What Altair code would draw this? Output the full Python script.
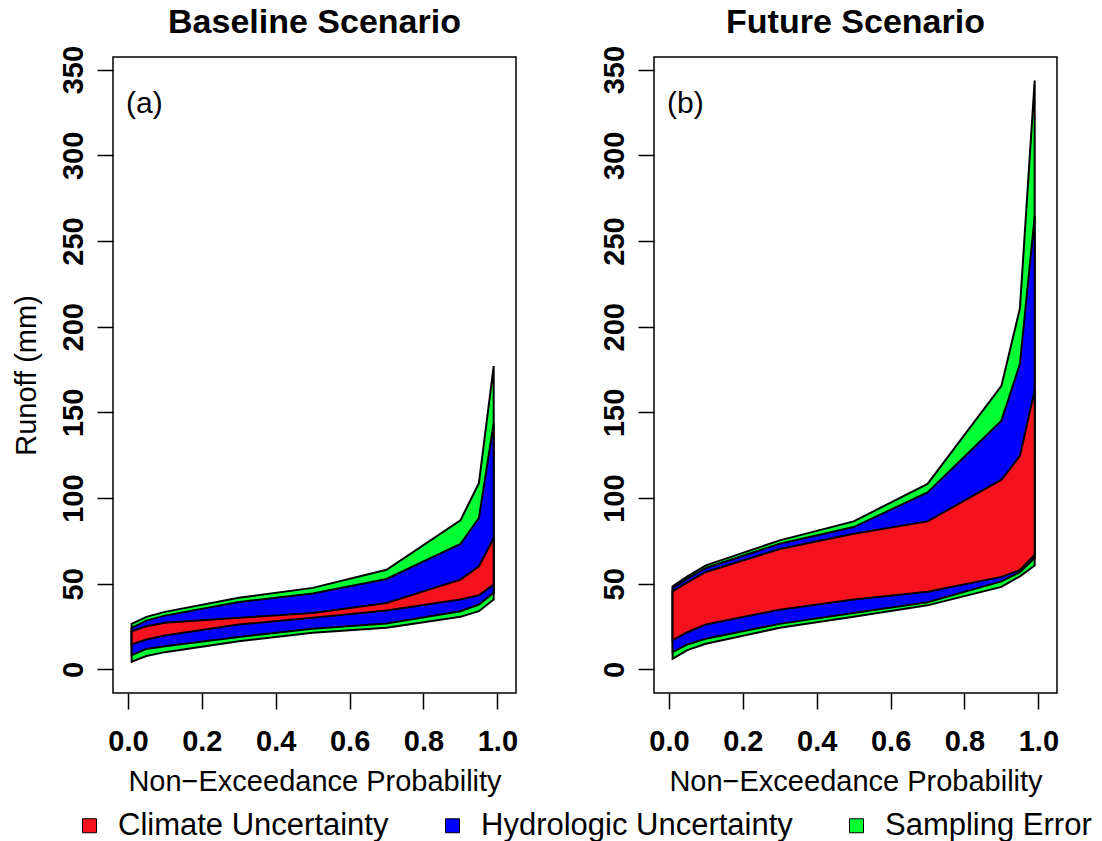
import altair as alt
import pandas as pd

FONT = "Liberation Sans"

# Non-exceedance probabilities
p = [0.01, 0.05, 0.1, 0.3, 0.5, 0.7, 0.9, 0.95, 0.99]

# Baseline scenario boundaries (mm)
base_green_hi = [26.6, 30.7, 33.6, 41.8, 47.6, 58.2, 87.0, 108.7, 177.0]
base_blue_hi = [24.3, 28.5, 31.4, 39.4, 44.3, 52.8, 73.2, 88.3, 143.7]
base_red_hi = [22.3, 25.2, 27.2, 30.1, 33.0, 38.8, 52.4, 60.2, 76.7]
base_red_lo = [14.6, 17.5, 19.8, 26.2, 30.1, 34.4, 40.8, 43.3, 49.5]
base_blue_lo = [8.3, 12.0, 13.6, 19.0, 23.7, 26.8, 34.0, 37.9, 44.7]
base_green_lo = [4.5, 7.8, 10.1, 16.5, 21.4, 24.3, 30.7, 34.0, 40.8]

# Future scenario boundaries (mm)
fut_green_hi = [48.5, 54.3, 60.7, 75.3, 86.4, 108.3, 165.5, 210.7, 343.6]
fut_blue_hi = [47.6, 53.0, 59.2, 73.4, 83.1, 103.3, 145.2, 178.2, 264.4]
fut_red_hi = [45.6, 50.8, 56.9, 70.3, 79.2, 86.4, 110.7, 124.6, 163.0]
fut_red_lo = [17.1, 21.7, 26.2, 34.9, 40.8, 45.3, 54.0, 58.0, 67.0]
fut_blue_lo = [10.1, 14.6, 17.9, 26.6, 33.0, 39.2, 51.4, 56.7, 65.0]
fut_green_lo = [6.2, 11.3, 15.0, 24.3, 30.7, 37.4, 48.2, 54.3, 60.6]

bands = ["Climate Uncertainty", "Hydrologic Uncertainty", "Sampling Error"]
band_colors = ["#F4121C", "#0000FF", "#00FF33"]
x_ticks = [0.0, 0.2, 0.4, 0.6, 0.8, 1.0]
y_ticks = [0, 50, 100, 150, 200, 250, 300, 350]


def make_df(g_hi, b_hi, r_hi, r_lo, b_lo, g_lo):
    rows = []
    for band, hi, lo in [("Sampling Error", g_hi, g_lo),
                         ("Hydrologic Uncertainty", b_hi, b_lo),
                         ("Climate Uncertainty", r_hi, r_lo)]:
        for pi, h, l in zip(p, hi, lo):
            rows.append({"band": band, "p": pi, "upper": h, "lower": l})
    return pd.DataFrame(rows)


base_df = make_df(base_green_hi, base_blue_hi, base_red_hi, base_red_lo, base_blue_lo, base_green_lo)
fut_df = make_df(fut_green_hi, fut_blue_hi, fut_red_hi, fut_red_lo, fut_blue_lo, fut_green_lo)

W, H = 403, 636
xscale = alt.Scale(domain=[-0.0404, 1.0504], nice=False, zero=False)
yscale = alt.Scale(domain=[-13.74, 357.37], nice=False, zero=False)
cscale = alt.Scale(domain=bands, range=band_colors)

legend = alt.Legend(
    title=None, orient="none", direction="horizontal",
    legendX=-39, legendY=753, padding=0,
    labelFont=FONT, labelFontSize=31, labelColor="black", labelLimit=500,
    labelOffset=13, columnPadding=48,
    symbolType="square", symbolSize=196, symbolStrokeColor="black",
    symbolStrokeWidth=1, symbolOpacity=1,
)


def panel(df, title, tag, ytitle):
    xaxis = alt.Axis(
        values=x_ticks, format=".1f", title="Non\u2212Exceedance Probability",
        grid=False, domain=False, tickSize=16, tickColor="black", tickWidth=1.5,
        labelFont=FONT, labelFontSize=29, labelFontWeight="bold", labelColor="black",
        labelBaseline="alphabetic", labelPadding=41, labelFlush=False, labelOverlap=False,
        titleFont=FONT, titleFontSize=29, titleFontWeight="normal", titleColor="black",
        titleBaseline="alphabetic", titleY=97,
    )
    yaxis = alt.Axis(
        values=y_ticks, format="d", title=ytitle if ytitle else "",
        grid=False, domain=False, tickSize=16, tickColor="black", tickWidth=1.5,
        labelFont=FONT, labelFontSize=29, labelFontWeight="bold", labelColor="black",
        labelAngle=270, labelAlign="center", labelBaseline="alphabetic",
        labelPadding=15, labelFlush=False, labelOverlap=False,
        titleFont=FONT, titleFontSize=29, titleFontWeight="normal", titleColor="black",
        titleAngle=270, titleAlign="center", titleBaseline="middle",
        titleX=-87, titleY=H / 2,
    )
    layers = []
    for band in ["Sampling Error", "Hydrologic Uncertainty", "Climate Uncertainty"]:
        layers.append(
            alt.Chart(df)
            .transform_filter(alt.datum.band == band)
            .mark_area(stroke="black", strokeWidth=2, opacity=1, fillOpacity=1)
            .encode(
                x=alt.X("p:Q", scale=xscale, axis=xaxis),
                y=alt.Y("upper:Q", scale=yscale, axis=yaxis),
                y2="lower:Q",
                color=alt.Color("band:N", scale=cscale, legend=legend),
            )
        )
    tag_layer = (
        alt.Chart(pd.DataFrame({"tag": [tag]}))
        .mark_text(align="left", baseline="middle", fontSize=30, font=FONT, color="black")
        .encode(x=alt.datum(-0.005), y=alt.datum(330), text="tag:N")
    )
    return alt.layer(*layers, tag_layer).properties(
        width=W, height=H,
        title=alt.TitleParams(title, font=FONT, fontSize=34, fontWeight="bold",
                              color="black", baseline="alphabetic", offset=-21.5,
                              anchor="middle"),
    )


left = panel(base_df, "Baseline Scenario", "(a)", "Runoff (mm)")
right = panel(fut_df, "Future Scenario", "(b)", None)

chart = (
    alt.hconcat(left, right, spacing=138, bounds="flush")
    .resolve_scale(color="shared")
    .resolve_legend(color="shared")
    .properties(padding={"left": 11, "top": 5, "right": 0, "bottom": 0})
    .configure_view(stroke="black", strokeWidth=1.5)
)

chart.save("out.html", embed_options={"renderer": "svg", "actions": False})
